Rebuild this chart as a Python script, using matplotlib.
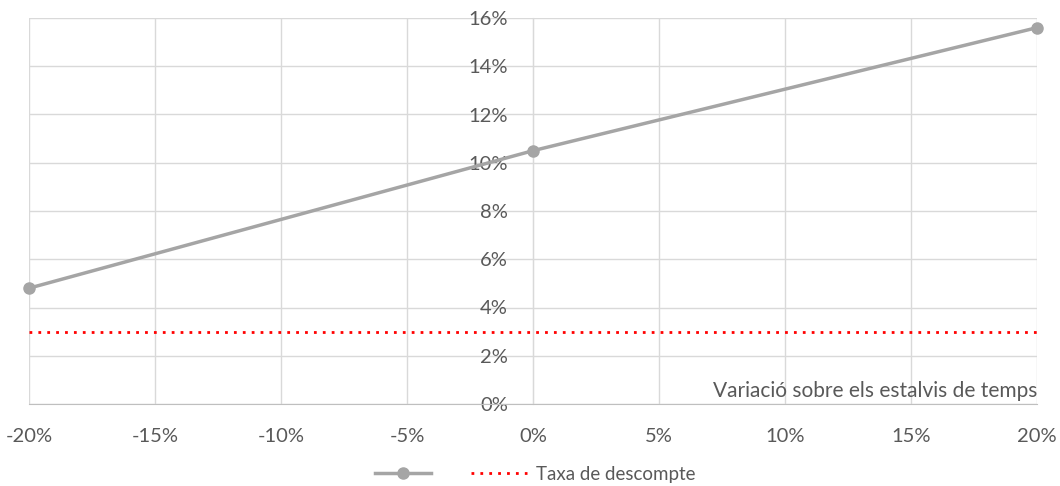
import matplotlib.pyplot as plt
from matplotlib.lines import Line2D

# -----------------------------
# DATA
# -----------------------------
variacio = [-20, 0, 20]                  # variació sobre els estalvis de temps (%)
tir = [4.8, 10.5, 15.6]                  # rendibilitat resultant (%)
taxa_descompte = 3.0                     # taxa de descompte (%)
x_ticks = [-20, -15, -10, -5, 0, 5, 10, 15, 20]
y_ticks = [0, 2, 4, 6, 8, 10, 12, 14, 16]

GREY = "#A5A5A5"
TEXT = "#595959"
GRID = "#D9D9D9"

plt.rcParams['font.family'] = ['Lato', 'DejaVu Sans']

fig = plt.figure(figsize=(10.6, 4.86), dpi=100)
ax = fig.add_axes([29 / 1060, 82 / 486, 1008 / 1060, 386 / 486])

# -----------------------------
# SERIES
# -----------------------------
ax.plot(variacio, tir, color=GREY, lw=2.5, marker='o', ms=8, zorder=3, clip_on=False)
ax.axhline(taxa_descompte, color='#FF0000', lw=2, ls=(0, (1, 2.2)), zorder=2)

# -----------------------------
# AXES
# -----------------------------
ax.set_xlim(-20, 20)
ax.set_ylim(0, 16)
ax.set_xticks(x_ticks)
ax.set_yticks(y_ticks)
ax.set_xticklabels([f"{v}%" for v in x_ticks])
ax.set_yticklabels([f"{v}%" for v in y_ticks])
ax.grid(True, color=GRID, lw=1)
ax.set_axisbelow(True)

for s in ['top', 'right']:
    ax.spines[s].set_visible(False)
ax.spines['left'].set_position(('data', 0))
ax.spines['left'].set_color(GRID)
ax.spines['bottom'].set_color('#BFBFBF')

ax.tick_params(axis='both', length=0, labelsize=14.5, labelcolor=TEXT)
ax.tick_params(axis='x', pad=17)
ax.tick_params(axis='y', pad=18)

ax.text(1.0, 0.034, "Variació sobre els estalvis de temps", transform=ax.transAxes,
        ha='right', va='center', fontsize=15, color=TEXT)

# -----------------------------
# LEGEND
# -----------------------------
handles = [
    Line2D([], [], color=GREY, lw=2.5, marker='o', ms=8),
    Line2D([], [], color='#FF0000', lw=2, ls=(0, (1, 2.2))),
]
fig.legend(handles, ['', 'Taxa de descompte'], loc='lower center', ncol=2,
           frameon=False, fontsize=13.5, labelcolor=TEXT, handlelength=3.0,
           handletextpad=0.5, columnspacing=1.6, bbox_to_anchor=(0.505, -0.028))

fig.savefig("out.png", dpi=100)
